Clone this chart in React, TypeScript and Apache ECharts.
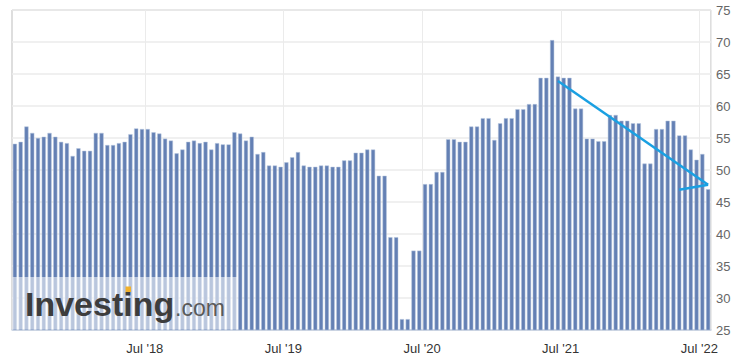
import React, { useEffect, useRef } from "react";
import * as echarts from "echarts";

// Bar values, oldest to newest (two releases per month)
const values: number[] = [
  54.1, 54.4, 56.8, 55.8, 55.0, 55.2, 55.8, 55.2, 54.4, 54.2, 52.2, 53.4, 53.0, 53.0, 55.8, 55.8, 53.9, 53.9, 54.2, 54.4, 55.6,
  56.5, 56.4, 56.4, 55.9, 55.7, 54.9, 54.6, 52.6, 53.2, 54.4, 54.6, 54.2, 54.4, 53.2, 54.2, 54.0, 54.0, 55.9, 55.7, 54.6, 55.2,
  52.5, 52.8, 50.7, 50.7, 50.5, 51.2, 52.0, 52.8, 50.7, 50.5, 50.5, 50.7, 50.7, 50.5, 50.5, 51.5, 51.5, 52.7, 52.7, 53.2, 53.2,
  49.1, 49.1, 39.5, 39.5, 26.7, 26.7, 37.4, 37.4, 47.8, 47.8, 49.7, 49.7, 54.8, 54.8, 54.4, 54.4, 56.8, 56.8, 58.1, 58.1, 54.7,
  57.3, 58.1, 58.1, 59.5, 59.5, 60.3, 60.3, 64.4, 64.4, 70.3, 64.6, 64.4, 64.4, 59.6, 59.6, 54.9, 54.9, 54.5, 54.5,
  58.6, 58.6, 57.7, 57.7, 57.3, 57.3, 51.0, 51.0, 56.4, 56.4, 57.7, 57.7, 55.4, 55.4, 53.2, 51.6, 52.5, 47.0,
];

// Category ids for the bars
const categories: string[] = values.map((_, i) => "b" + i);

// X tick labels and the bar index where each one sits
const xTickLabels: string[] = ["Jul '18", "Jul '19", "Jul '20", "Jul '21", "Jul '22"];
const xTickIndex: number[] = [23, 47, 71, 95, 119];

// Y axis range
const yMin = 25;
const yMax = 75;
const yStep = 5;

// Drawn trend arrow: [bar index, value]
const trendStart: [number, number] = [94, 63.9];
const trendTip: [number, number] = [120, 47.7];
const trendBarb: [number, number] = [115, 46.9];

const FONT = "'Liberation Sans', Arial, sans-serif";

export default function App() {
  const ref = useRef<HTMLDivElement>(null);

  useEffect(() => {
    if (!ref.current) return;
    const chart = echarts.init(ref.current, undefined, { renderer: "svg" });
    const isTick = (i: number) => xTickIndex.indexOf(i) >= 0;
    chart.setOption({
      animation: false,
      backgroundColor: "#ffffff",
      grid: {
        left: 12,
        right: 30,
        top: 10,
        bottom: 29,
        show: true,
        borderColor: "#bdbdbd",
        borderWidth: 1,
      },
      xAxis: {
        type: "category",
        data: categories,
        boundaryGap: true,
        axisLine: { show: true, lineStyle: { color: "#c6d1e2", width: 1.5 } },
        axisTick: { show: false },
        axisLabel: {
          interval: (i: number) => isTick(i),
          formatter: (_v: string, i: number) => {
            const k = xTickIndex.indexOf(i);
            return k >= 0 ? xTickLabels[k] : "";
          },
          color: "#333333",
          fontSize: 13,
          fontFamily: FONT,
          margin: 12,
          padding: [0, 6, 0, 0],
        },
        splitLine: {
          show: true,
          interval: (i: number) => isTick(i),
          lineStyle: { color: "#ebebeb", width: 1 },
        },
      },
      yAxis: {
        type: "value",
        position: "right",
        min: yMin,
        max: yMax,
        interval: yStep,
        axisLine: { show: false },
        axisTick: { show: false },
        axisLabel: { color: "#666666", fontSize: 13, fontFamily: FONT, margin: 5 },
        splitLine: { show: true, lineStyle: { color: "#ebebeb", width: 1.5 } },
      },
      series: [
        {
          type: "bar",
          data: values,
          barWidth: "72%",
          itemStyle: { color: "#6480b4", borderColor: "#b7c6df", borderWidth: 0.5 },
          markLine: {
            silent: true,
            symbol: ["none", "none"],
            label: { show: false },
            lineStyle: { color: "#1aa0e2", width: 2.5, type: "solid" },
            data: [
              [{ coord: trendStart }, { coord: trendTip }],
              [{ coord: trendTip }, { coord: trendBarb }],
            ],
          },
        },
      ],
      graphic: [
        {
          type: "rect",
          z: 100,
          shape: { x: 12.5, y: 277, width: 225, height: 52.5 },
          style: { fill: "rgba(255,255,255,0.55)" },
        },
        {
          type: "text",
          z: 101,
          x: 25,
          y: 304,
          style: {
            text: "Investing",
            font: "bold 34px " + FONT,
            fill: "#3d3d3d",
            textVerticalAlign: "middle",
          },
        },
        {
          type: "text",
          z: 101,
          x: 175,
          y: 308,
          style: {
            text: ".com",
            font: "23px " + FONT,
            fill: "#5a5a5a",
            textVerticalAlign: "middle",
          },
        },
        {
          type: "rect",
          z: 102,
          shape: { x: 125.5, y: 286.5, width: 5.5, height: 5.5 },
          style: { fill: "#f2b12b" },
        },
      ],
    });
    return () => chart.dispose();
  }, []);

  return (
    <div
      ref={ref}
      style={{ position: "fixed", left: 0, top: 0, width: 741, height: 359, background: "#fff" }}
    />
  );
}
